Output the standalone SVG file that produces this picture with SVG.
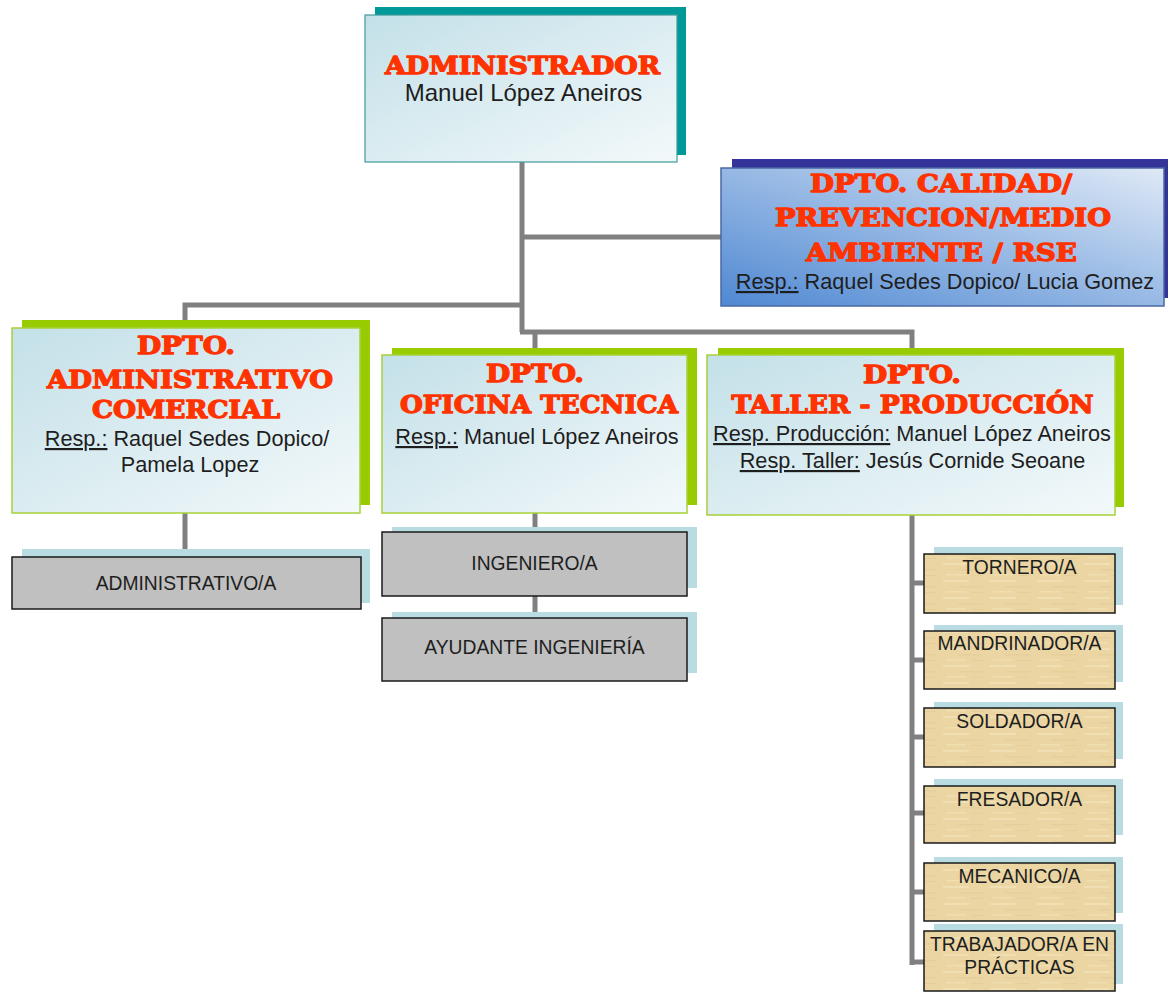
<svg xmlns="http://www.w3.org/2000/svg" width="1170" height="992" viewBox="0 0 1170 992">
<defs>
<linearGradient id="gLight" x1="0" y1="0" x2="1" y2="1">
<stop offset="0" stop-color="#c3e0e8"/>
<stop offset="1" stop-color="#f3f9fa"/>
</linearGradient>
<linearGradient id="gBlue" x1="0" y1="1" x2="1" y2="0">
<stop offset="0" stop-color="#4f88d2"/>
<stop offset="0.55" stop-color="#9dbde6"/>
<stop offset="1" stop-color="#dfe9f6"/>
</linearGradient>
<pattern id="pTan" width="47" height="17" patternUnits="userSpaceOnUse">
<rect width="47" height="17" fill="#ebd6a3"/>
<rect x="3" y="2" width="26" height="2" fill="#f3e5be" opacity="0.6"/>
<rect x="18" y="8" width="25" height="1.5" fill="#dfc791" opacity="0.45"/>
<rect x="6" y="13" width="20" height="1.5" fill="#f2e2b6" opacity="0.6"/>
<rect x="31" y="14" width="12" height="1" fill="#dcc38c" opacity="0.4"/>
</pattern>
</defs>
<style>
.con{fill:none;stroke:#808080;stroke-width:5}
.title{font-family:"DejaVu Serif","Liberation Serif",serif;font-weight:bold;font-size:24px;fill:#ff3300;stroke:#ff3300;stroke-width:1.3;stroke-linejoin:round;text-anchor:middle}
.txt{font-family:"Liberation Sans",Arial,sans-serif;font-size:21.7px;fill:#1e1e1e;text-anchor:middle}
.item{font-family:"Liberation Sans",Arial,sans-serif;font-size:19.3px;fill:#1e1e1e;text-anchor:middle}
.u{text-decoration:underline}
.shTeal{fill:#009999}
.shGreen{fill:#99cc00}
.shNavy{fill:#333399}
.shPale{fill:#b9dce2}
.boxLight{fill:url(#gLight);stroke:#3f9c9c;stroke-width:1.2}
.boxDept{fill:url(#gLight);stroke:#a6d13a;stroke-width:1.5}
.boxBlue{fill:url(#gBlue);stroke:#4a68a3;stroke-width:1.5}
.boxGray{fill:#c0c0c0;stroke:#1a1a1a;stroke-width:1.5}
.boxTan{fill:url(#pTan);stroke:#1a1a1a;stroke-width:1.5}
</style>

<g id="connectors">
<path class="con" d="M522,162 V332"/>
<path class="con" d="M522,237 H722"/>
<path class="con" d="M522,305 H185 V328"/>
<path class="con" d="M520,332 H912 V355"/>
<path class="con" d="M535,332 V355"/>
<path class="con" d="M185,513 V557"/>
<path class="con" d="M535,513 V532"/>
<path class="con" d="M535,596 V618"/>
<path class="con" d="M912,515 V965"/>
<path class="con" d="M912,583 H924"/>
<path class="con" d="M912,660 H924"/>
<path class="con" d="M912,737 H924"/>
<path class="con" d="M912,813 H924"/>
<path class="con" d="M912,892 H924"/>
<path class="con" d="M910,962 H924"/>
</g>

<g id="administrador">
<rect class="shTeal" x="375" y="7" width="311" height="148"/>
<rect class="boxLight" x="365" y="15" width="312" height="147"/>
<text class="title" x="522.5" y="74" textLength="275" lengthAdjust="spacingAndGlyphs">ADMINISTRADOR</text>
<text class="txt" x="523.5" y="101" style="font-size:24px">Manuel López Aneiros</text>
</g>

<g id="calidad">
<rect class="shNavy" x="732" y="159" width="436" height="139"/>
<rect class="boxBlue" x="721" y="168" width="443" height="138"/>
<text class="title" x="941" y="192" textLength="262" lengthAdjust="spacingAndGlyphs">DPTO. CALIDAD/</text>
<text class="title" x="943" y="226" textLength="336" lengthAdjust="spacingAndGlyphs">PREVENCION/MEDIO</text>
<text class="title" x="941.5" y="261" textLength="271" lengthAdjust="spacingAndGlyphs">AMBIENTE / RSE</text>
<text class="txt" x="945" y="289"><tspan class="u">Resp.:</tspan> Raquel Sedes Dopico/ Lucia Gomez</text>
</g>

<g id="administrativo-comercial">
<rect class="shGreen" x="22" y="320" width="348" height="185"/>
<rect class="boxDept" x="12" y="328" width="348" height="185"/>
<text class="title" x="186" y="354" textLength="98" lengthAdjust="spacingAndGlyphs">DPTO.</text>
<text class="title" x="190" y="388" textLength="286" lengthAdjust="spacingAndGlyphs">ADMINISTRATIVO</text>
<text class="title" x="186" y="418" textLength="188" lengthAdjust="spacingAndGlyphs">COMERCIAL</text>
<text class="txt" x="187" y="446"><tspan class="u">Resp.:</tspan> Raquel Sedes Dopico/</text>
<text class="txt" x="190" y="472">Pamela Lopez</text>
</g>

<g id="oficina-tecnica">
<rect class="shGreen" x="392" y="348" width="305" height="157"/>
<rect class="boxDept" x="382" y="355" width="305" height="158"/>
<text class="title" x="535" y="382" textLength="98" lengthAdjust="spacingAndGlyphs">DPTO.</text>
<text class="title" x="539" y="413" textLength="278" lengthAdjust="spacingAndGlyphs">OFICINA TECNICA</text>
<text class="txt" x="537" y="444"><tspan class="u">Resp.:</tspan> Manuel López Aneiros</text>
</g>

<g id="taller-produccion">
<rect class="shGreen" x="718" y="348" width="406" height="159"/>
<rect class="boxDept" x="707" y="355" width="408" height="160"/>
<text class="title" x="912" y="383" textLength="98" lengthAdjust="spacingAndGlyphs">DPTO.</text>
<text class="title" x="912.5" y="413" textLength="362" lengthAdjust="spacingAndGlyphs">TALLER - PRODUCCIÓN</text>
<text class="txt" x="912" y="441"><tspan class="u">Resp. Producción:</tspan> Manuel López Aneiros</text>
<text class="txt" x="912.5" y="468"><tspan class="u">Resp. Taller:</tspan> Jesús Cornide Seoane</text>
</g>

<g id="administrativo-a">
<rect class="shPale" x="22" y="549" width="348" height="54"/>
<rect class="boxGray" x="12" y="557" width="349" height="52"/>
<text class="item" x="186" y="590">ADMINISTRATIVO/A</text>
</g>

<g id="ingeniero">
<rect class="shPale" x="392" y="527" width="305" height="61"/>
<rect class="boxGray" x="382" y="532" width="305" height="64"/>
<text class="item" x="534.5" y="570">INGENIERO/A</text>
</g>

<g id="ayudante-ingenieria">
<rect class="shPale" x="392" y="612" width="305" height="61"/>
<rect class="boxGray" x="382" y="618" width="305" height="63"/>
<text class="item" x="534.5" y="654">AYUDANTE INGENIERÍA</text>
</g>

<g id="tornero">
<rect class="shPale" x="934" y="547" width="189" height="58"/>
<rect class="boxTan" x="924" y="554" width="191" height="59"/>
<text class="item" x="1019.5" y="574">TORNERO/A</text>
</g>

<g id="mandrinador">
<rect class="shPale" x="934" y="625" width="189" height="57"/>
<rect class="boxTan" x="924" y="631" width="191" height="58"/>
<text class="item" x="1019.5" y="650">MANDRINADOR/A</text>
</g>

<g id="soldador">
<rect class="shPale" x="934" y="702" width="189" height="57"/>
<rect class="boxTan" x="924" y="708" width="191" height="59"/>
<text class="item" x="1019.5" y="728">SOLDADOR/A</text>
</g>

<g id="fresador">
<rect class="shPale" x="934" y="779" width="189" height="56"/>
<rect class="boxTan" x="924" y="786" width="191" height="57"/>
<text class="item" x="1019.5" y="806">FRESADOR/A</text>
</g>

<g id="mecanico">
<rect class="shPale" x="934" y="857" width="189" height="56"/>
<rect class="boxTan" x="924" y="863" width="191" height="58"/>
<text class="item" x="1019.5" y="883">MECANICO/A</text>
</g>

<g id="trabajador-practicas">
<rect class="shPale" x="934" y="924" width="189" height="60"/>
<rect class="boxTan" x="924" y="931" width="191" height="60"/>
<text class="item" x="1019.5" y="951">TRABAJADOR/A EN</text>
<text class="item" x="1019.5" y="974">PRÁCTICAS</text>
</g>
</svg>
